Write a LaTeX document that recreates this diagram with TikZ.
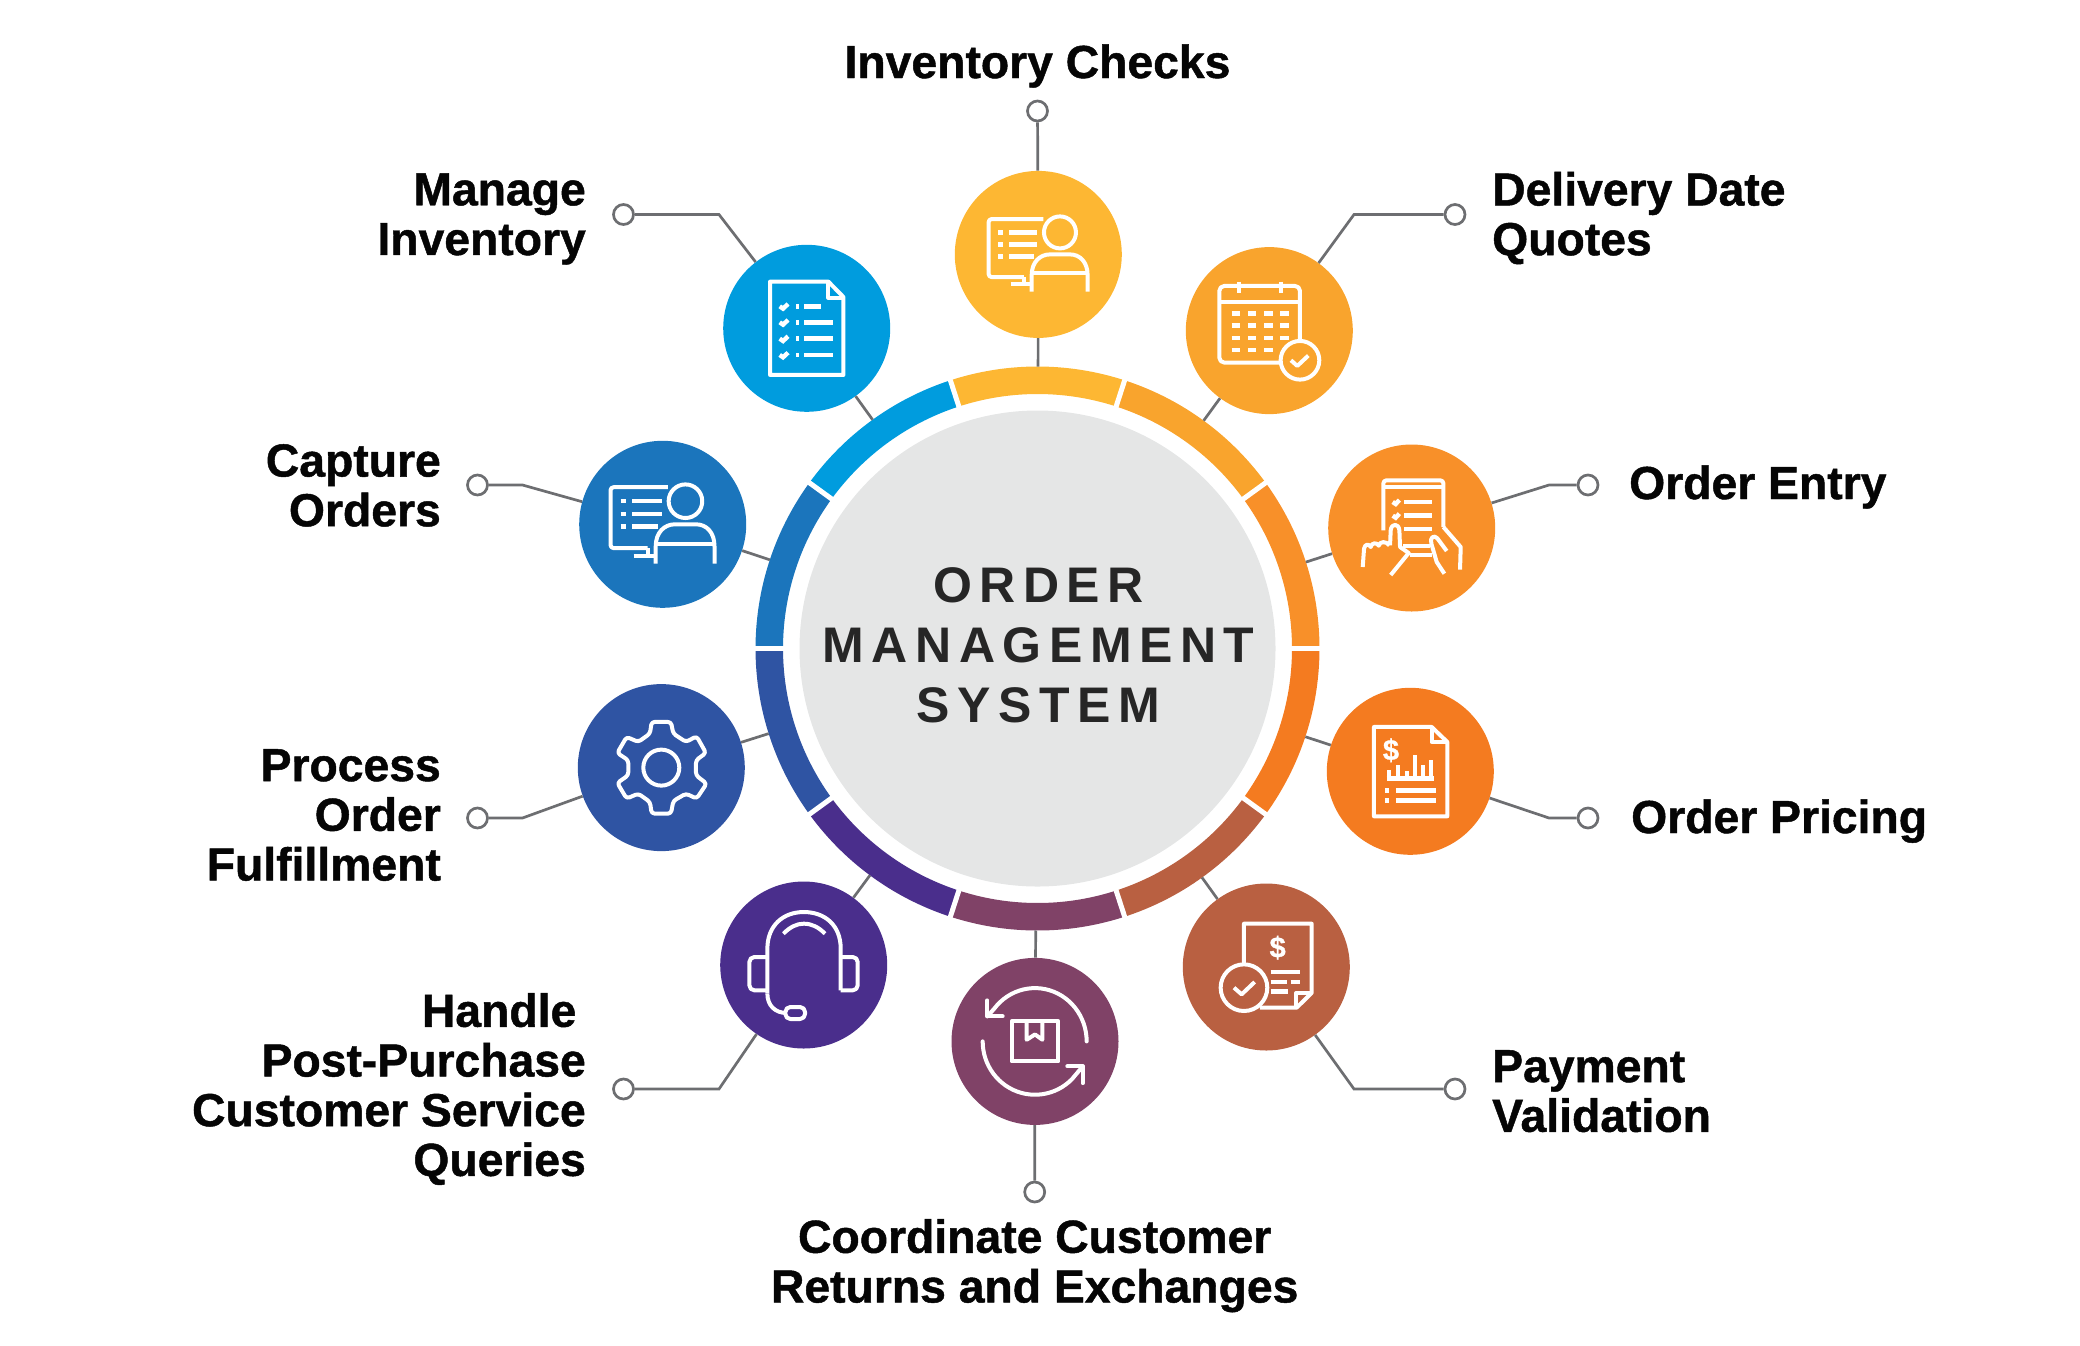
\documentclass[tikz,border=0pt]{standalone}
\usepackage{fontspec}
\usetikzlibrary{calc}
\newfontfamily\labf[BoldFeatures={FakeBold=1}]{Liberation Sans}
\newfontfamily\cenf[LetterSpace=15]{Liberation Sans}
\definecolor{cYel}{HTML}{FDB733}
\definecolor{cDel}{HTML}{F9A42D}
\definecolor{cEnt}{HTML}{F89029}
\definecolor{cPri}{HTML}{F47B20}
\definecolor{cPay}{HTML}{B96041}
\definecolor{cRet}{HTML}{804267}
\definecolor{cHea}{HTML}{4A2E8C}
\definecolor{cPro}{HTML}{2F54A3}
\definecolor{cCap}{HTML}{1B75BC}
\definecolor{cMan}{HTML}{009CDE}
\definecolor{cLin}{HTML}{6D6E71}
\definecolor{cCen}{HTML}{E5E6E6}
\tikzset{
  ball/.style={circle,fill=#1,minimum size=167,inner sep=0},
  term/.style={circle,draw=cLin,fill=white,line width=2.7,minimum size=20,inner sep=0},
  conn/.style={draw=cLin,line width=2.7,line join=miter},
  lab/.style={font=\labf\bfseries\fontsize{46.3}{49.7}\selectfont,inner sep=0,text=black!98},
  icn/.style={draw=white,line width=4,line join=round},
  tiny/.style={draw=white,line width=4.4},
}
\newcommand{\ringseg}[3]{\draw[line width=27.5,#3] plot[domain=#1:#2,samples=40] ({1037.5+268.25*cos(\x)},{648.5-268.25*sin(\x)});}
\newcommand{\persona}{%
  \draw[icn,rounded corners=3] (430,236) -- (266,236) -- (266,410) -- (372,410);
  \draw[icn] (372,410) -- (372,432); \draw[icn] (332,432) -- (395,432);
  \foreach \yy/\xe in {276/412,312/412,348/402}{
    \draw[tiny] (295,\yy) -- (310,\yy);
    \draw[tiny] (328,\yy) -- (\xe,\yy);}
  \draw[icn] (480,276) circle[radius=48];
  \draw[icn] (395,454) -- (395,405) .. controls (395,365) and (420,342) .. (450,342) -- (510,342) .. controls (540,342) and (563,365) .. (563,405) -- (563,454);
  \draw[icn] (395,398) -- (563,398);
}
\newcommand{\moneysign}[2]{\node[inner sep=0,text=white,font=\labf\bfseries\fontsize{29}{29}\selectfont] (#1) at (#2) {\$};}
\begin{document}
\begin{tikzpicture}[x=1pt,y=-1pt]
\useasboundingbox (0,0) rectangle (2080,1345);
% ring
\ringseg{0}{36}{cEnt}
\ringseg{36}{72}{cDel}
\ringseg{72}{108}{cYel}
\ringseg{108}{144}{cMan}
\ringseg{144}{180}{cCap}
\ringseg{180}{216}{cPro}
\ringseg{216}{252}{cHea}
\ringseg{252}{288}{cRet}
\ringseg{288}{324}{cPay}
\ringseg{324}{360}{cPri}
\foreach \a in {0,36,...,324}
  \draw[white,line width=5] ({1037.5+248*cos(\a)},{648.5-248*sin(\a)}) -- ({1037.5+290*cos(\a)},{648.5-290*sin(\a)});
\node[circle,fill=cCen,minimum size=476,inner sep=0] (hub) at (1037.5,648.5) {};
\node[inner sep=0,align=center,text=black!85,font=\cenf\bfseries\fontsize{50}{60}\selectfont] (title) at (1038.5,645.5) {ORDER\\MANAGEMENT\\SYSTEM};
% icon discs
\node[ball=cYel] (i1) at (1038.3,254.4) {};
\node[ball=cDel] (i2) at (1269.3,330.6) {};
\node[ball=cEnt] (i3) at (1411.7,528) {};
\node[ball=cPri] (i4) at (1410.3,771.3) {};
\node[ball=cPay] (i5) at (1266.3,967) {};
\node[ball=cRet] (i6) at (1035,1041.4) {};
\node[ball=cHea] (i7) at (803.7,965) {};
\node[ball=cPro] (i8) at (661.3,767.6) {};
\node[ball=cCap] (i9) at (662.7,524.3) {};
\node[ball=cMan] (i10) at (806.7,328.3) {};
% terminals and elbows
\node[term] (t1) at (1037.5,111) {};
\node[term] (t2) at (1455,214.5) {};
\node[term] (t3) at (1588,485) {};
\node[term] (t4) at (1588,818) {};
\node[term] (t5) at (1455,1089) {};
\node[term] (t6) at (1034.7,1192) {};
\node[term] (t7) at (623.5,1089) {};
\node[term] (t8) at (477.5,818) {};
\node[term] (t9) at (477.5,485) {};
\node[term] (t10) at (623.5,214.5) {};
\coordinate (e2) at (1354,214.5);
\coordinate (e3) at (1549,485);
\coordinate (e4) at (1549,818);
\coordinate (e5) at (1354,1089);
\coordinate (e7) at (719,1089);
\coordinate (e8) at (522.5,818);
\coordinate (e9) at (522.5,485);
\coordinate (e10) at (719,214.5);
% connectors
\foreach \k in {1,...,10}
  \draw[conn] ($(hub.center)!282pt!(i\k.center)$) -- (i\k);
\draw[conn] (i1) -- (t1);
\draw[conn] (i6) -- (t6);
\foreach \k in {2,3,4,5,7,8,9,10}
  \draw[conn] (i\k) -- (e\k) -- (t\k);
% labels
\node[lab,anchor=base] (l1) at (1037.5,78) {Inventory Checks};
\node[lab,align=left,anchor=north west] (l2) at (1492,171.7) {Delivery Date\\Quotes};
\node[lab,anchor=base west] (l3) at (1629,499) {Order Entry};
\node[lab,anchor=base west] (l4) at (1631,833) {Order Pricing};
\node[lab,align=left,anchor=north west] (l5) at (1492,1050) {Payment\\Validation};
\node[lab,align=center,anchor=north] (l6) at (1034.7,1219) {Coordinate Customer\\Returns and Exchanges};
\node[lab,align=right,anchor=north east] (l7) at (586,993) {Handle\hspace*{9.5pt}\\Post-Purchase\\Customer Service\\Queries};
\node[lab,align=right,anchor=north east] (l8) at (441,749) {Process\\Order\\Fulfillment};
\node[lab,align=right,anchor=north east] (l9) at (441,444) {Capture\\Orders};
\node[lab,align=right,anchor=north east] (l10) at (586,173.2) {Manage\\Inventory};
% icon 1
\begin{scope}[shift={(i1.center)},scale=0.3333,shift={(-415,-342)}]
\persona
\end{scope}
% icon 9
\begin{scope}[shift={(i9.center)},scale=0.35,shift={(-415,-342)}]
\persona
\end{scope}
% icon 2 calendar
\begin{scope}[shift={(i2.center)},scale=0.3333,shift={(-1108,-571)}]
\draw[icn,rounded corners=5] (1200,600) -- (1200,437) -- (958,437) -- (958,667) -- (1140,667);
\draw[icn] (958,485) -- (1200,485);
\draw[icn] (1016,424) -- (1016,458);
\draw[icn] (1144,424) -- (1144,458);
\foreach \yy in {520,556,594}
  \foreach \xx in {995,1044,1093,1141}
    \draw[tiny] (\xx,\yy) -- (\xx+25,\yy);
\foreach \xx in {995,1044,1093}
  \draw[tiny] (\xx,630) -- (\xx+25,630);
\draw[icn] (1200,660) circle[radius=58];
\draw[icn] (1173,660) -- (1192,677) -- (1225,646);
\end{scope}
% icon 10 checklist
\begin{scope}[shift={(i10.center)},scale=0.3333,shift={(-740,-324)}]
\draw[icn] (630,184) -- (805,184) -- (850,230) -- (850,464) -- (630,464) -- cycle;
\draw[icn] (805,184) -- (805,232) -- (850,232);
\foreach \yy/\xe in {258/783,306/820,355/820,404/820}{
  \draw[tiny] (659,\yy) -- (669,\yy+7) -- (684,\yy-7);
  \draw[tiny] (708,\yy) -- (717,\yy);
  \draw[tiny] (732,\yy) -- (\xe,\yy);}
\end{scope}
% icon 3 tablet and hands
\begin{scope}[shift={(i3.center)},scale=0.3333,shift={(-335,-293)}]
\draw[icn,rounded corners=3] (250,300) -- (250,150) -- (430,150) -- (430,290);
\draw[icn] (250,170) -- (430,170);
\draw[icn] (310,348) -- (390,348);
\draw[icn] (330,375) -- (395,375);
\foreach \yy in {215,256}{
  \draw[tiny] (278,\yy) -- (287,\yy+6) -- (298,\yy-6);
  \draw[tiny] (312,\yy) -- (395,\yy);}
\draw[tiny] (312,296) -- (395,296);
\draw[icn] (188,410) -- (192,355) .. controls (194,340) and (208,340) .. (212,350) .. controls (214,336) and (232,336) .. (236,346) .. controls (240,332) and (258,332) .. (268,345);
\draw[icn] (270,345) -- (272,300) .. controls (274,278) and (296,278) .. (298,300) -- (300,350) -- (326,368) -- (272,434);
\draw[icn] (430,290) -- (482,350) -- (480,418);
\draw[icn] (440,362) -- (412,324) .. controls (402,312) and (388,322) .. (394,340) -- (410,395) -- (433,430);
\end{scope}
% icon 4 priced document
\begin{scope}[shift={(i4.center)},scale=0.3333,shift={(-331,-1023)}]
\draw[icn] (222,890) -- (395,890) -- (442,935) -- (442,1158) -- (222,1158) -- cycle;
\draw[icn] (395,890) -- (395,935) -- (442,935);
\moneysign{d4}{273,960}
\draw[tiny] (260,1045) -- (403,1045);
\foreach \xx/\yy in {268/1020,295/1005,320/1022,345/975,370/1005,392/990}
  \draw[icn] (\xx,1045) -- (\xx,\yy);
\foreach \yy in {1080,1110}{
  \draw[tiny] (255,\yy) -- (266,\yy);
  \draw[tiny] (288,\yy) -- (408,\yy);}
\end{scope}
% icon 5 invoice
\begin{scope}[shift={(i5.center)},scale=0.3333,shift={(-319,-290)}]
\draw[icn] (252,282) -- (252,160) -- (455,160) -- (455,368) -- (410,412) -- (300,412);
\draw[icn] (455,368) -- (408,368) -- (408,412);
\moneysign{d5}{353,232}
\draw[tiny] (332,305) -- (420,305);
\draw[tiny] (332,335) -- (380,335);
\draw[tiny] (392,335) -- (420,335);
\draw[tiny] (332,364) -- (385,364);
\draw[icn] (252,352) circle[radius=70];
\draw[icn] (222,352) -- (245,372) -- (284,335);
\end{scope}
% icon 6 returns
\begin{scope}[shift={(i6.center)},scale=0.3333,shift={(-315,-273)}]
\draw[icn] (245,213) rectangle (385,333);
\draw[icn] (290,213) -- (290,268) -- (315,252) -- (337,268) -- (337,213);
\draw[icn,line cap=round] plot[domain=0:142,samples=30] ({315+155*cos(\x)},{273-160*sin(\x)}) -- (172,198);
\draw[icn,line cap=round] (172,150) -- (172,198) -- (218,198);
\draw[icn,line cap=round] plot[domain=180:315,samples=30] ({315+157*cos(\x)},{273-160*sin(\x)}) -- (458,348);
\draw[icn,line cap=round] (412,348) -- (458,348) -- (458,398);
\end{scope}
% icon 7 headset
\begin{scope}[shift={(i7.center)},scale=0.3333,shift={(-731,-854)}]
\draw[icn] (622,940) -- (622,805) .. controls (622,735) and (670,695) .. (731,695) .. controls (795,695) and (842,735) .. (842,805) -- (842,930);
\draw[icn] (622,940) .. controls (622,975) and (645,998) .. (680,998);
\draw[icn,rounded corners=5] (618,830) -- (568,830) -- (568,930) -- (618,930);
\draw[icn,rounded corners=5] (842,930) -- (893,930) -- (893,830) -- (846,830);
\draw[icn,rounded corners=5] (676,980) rectangle (735,1016);
\draw[icn] (670,760) .. controls (690,740) and (710,730) .. (731,730) .. controls (755,730) and (775,740) .. (795,760);
\end{scope}
% icon 8 gear
\begin{scope}[shift={(i8.center)},scale=0.3333,shift={(-304,-262)}]
\draw[icn,rounded corners=3] (275,125) -- (333,125) -- (340,160) -- (378,185) -- (410,168) -- (438,218) -- (408,240) -- (408,285) -- (440,310) -- (410,355) -- (378,340) -- (340,362) -- (333,400) -- (275,400) -- (270,365) -- (235,340) -- (200,355) -- (172,308) -- (205,285) -- (205,240) -- (172,218) -- (200,170) -- (235,185) -- (270,160) -- cycle;
\draw[icn] (304,262) circle[radius=54];
\end{scope}
\end{tikzpicture}
\end{document}
